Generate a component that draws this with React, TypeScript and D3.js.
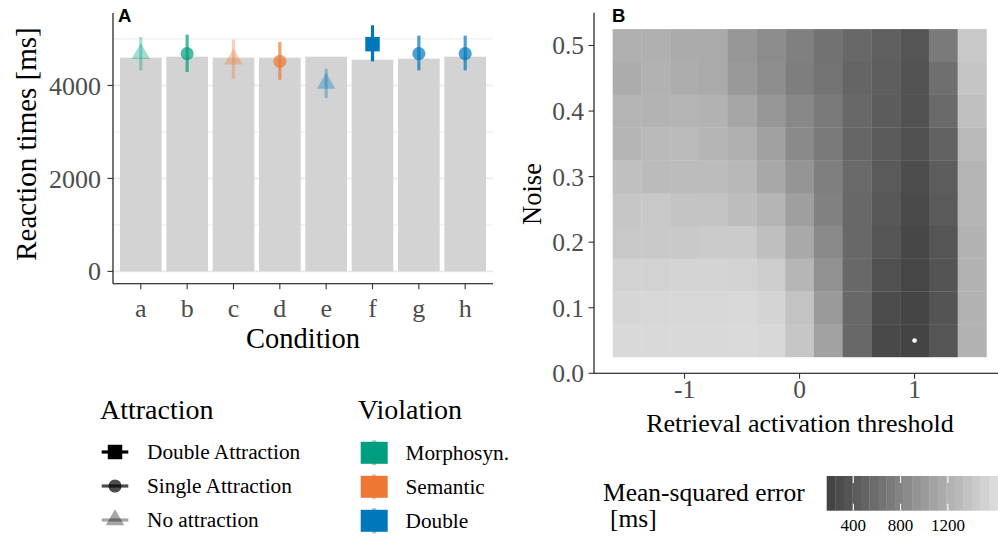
import React from "react";
import * as d3 from "d3";

// ---------- Panel A data ----------
const conditions = ["a", "b", "c", "d", "e", "f", "g", "h"];
const barRT = [4597, 4618, 4597, 4597, 4618, 4554, 4575, 4618];
const pointRT = [4683, 4683, 4565, 4517, 4044, 4888, 4683, 4683];
const lowerRT = [4323, 4289, 4144, 4123, 3728, 4517, 4323, 4323];
const upperRT = [5043, 5093, 4985, 4935, 4360, 5293, 5071, 5071];
const attraction = ["No", "Single", "No", "Single", "No", "Double", "Single", "Single"];
const violation = ["Morphosyn.", "Morphosyn.", "Semantic", "Semantic", "Double", "Double", "Double", "Double"];
const yTicksA = [0, 2000, 4000];
const yMinorA = [1000, 3000, 5000];

const violationLevels = ["Morphosyn.", "Semantic", "Double"];
const violationColors = ["#009E80", "#EE7733", "#0077BB"];
const attractionLevels = ["Double", "Single", "No"];
const attractionLabels = ["Double Attraction", "Single Attraction", "No attraction"];
const attractionAlpha = [1, 0.7, 0.35];

// ---------- Panel B data ----------
const thresholds = [-1.5, -1.25, -1, -0.75, -0.5, -0.25, 0, 0.25, 0.5, 0.75, 1, 1.25, 1.5];
const noiseLevels = [0.05, 0.1, 0.15, 0.2, 0.25, 0.3, 0.35, 0.4, 0.45, 0.5];
const mse = [
  [1610, 1610, 1610, 1610, 1620, 1601, 1427, 1080, 522, 223, 175, 339, 1234],
  [1581, 1591, 1591, 1591, 1610, 1562, 1398, 1003, 522, 252, 180, 329, 1234],
  [1543, 1543, 1562, 1562, 1543, 1495, 1273, 917, 522, 291, 194, 329, 1234],
  [1446, 1456, 1456, 1475, 1475, 1359, 1148, 849, 522, 339, 204, 339, 1234],
  [1427, 1446, 1398, 1408, 1340, 1263, 1052, 763, 522, 368, 233, 387, 1263],
  [1369, 1321, 1331, 1331, 1292, 1138, 955, 743, 541, 387, 262, 416, 1263],
  [1263, 1302, 1321, 1263, 1215, 1071, 849, 695, 503, 387, 291, 464, 1302],
  [1263, 1244, 1254, 1234, 1109, 975, 830, 695, 522, 406, 310, 541, 1369],
  [1177, 1234, 1186, 1157, 994, 887, 734, 628, 493, 425, 320, 589, 1418],
  [1215, 1215, 1167, 1157, 965, 868, 753, 618, 522, 435, 339, 695, 1446],
];
const xTicksB = [-1, 0, 1];
const yTicksB = [0, 0.1, 0.2, 0.3, 0.4, 0.5];
const colorbarTicks = [400, 800, 1200];

const SERIF = "'Liberation Serif', 'Times New Roman', serif";
const SANS = "'Liberation Sans', Arial, sans-serif";
const TICK_COL = "#4d4d4d";

export default function App() {
  // ----- Panel A scales -----
  const xA = d3.scaleBand().domain(conditions).range([113, 493]).paddingInner(0.1).paddingOuter(0.15);
  const maxA = d3.max(upperRT) as number;
  const yA = d3.scaleLinear().domain([-0.05 * maxA, 1.05 * maxA]).range([283.7, 13]);
  const colorA = d3.scaleOrdinal<string, string>().domain(violationLevels).range(violationColors);
  const alphaA = d3.scaleOrdinal<string, number>().domain(attractionLevels).range(attractionAlpha);

  const sym = (kind: string, size: number) => {
    const t = kind === "No" ? d3.symbolTriangle : kind === "Double" ? d3.symbolSquare : d3.symbolCircle;
    return d3.symbol().type(t).size(size)() as string;
  };
  const symSize = (kind: string) => (kind === "No" ? 150 : kind === "Double" ? 210 : 135);

  // ----- Panel B scales -----
  const xB = d3.scaleLinear().domain([-1.7875, 1.7875]).range([594, 1005.1]);
  const yB = d3.scaleLinear().domain([0, 0.55]).range([373.3, 12.7]);
  const all = mse.flat();
  const ext = d3.extent(all) as [number, number];
  const fill = d3.scaleLinear<string>().domain(ext).range(["#444444", "#dadada"]).interpolate(d3.interpolateRgb);
  const tileW = xB(0.25) - xB(0);
  const tileH = yB(0) - yB(0.05);

  let minI = 0, minJ = 0;
  mse.forEach((row, i) => row.forEach((v, j) => { if (v < mse[minI][minJ]) { minI = i; minJ = j; } }));

  // colorbar
  const cbX0 = 826.7;
  const cbScale = d3.scaleLinear().domain(ext).range([cbX0, cbX0 + (ext[1] - ext[0]) * 0.11825]);
  const nbin = 20;
  const binVals = d3.range(nbin).map((i) => ext[0] + ((ext[1] - ext[0]) * i) / (nbin - 1));
  const binW = (cbScale(ext[1]) - cbScale(ext[0])) / nbin;
  const cbY0 = 476, cbY1 = 510.7;

  return (
    <svg width={998} height={537} style={{ position: "absolute", left: 0, top: 0, background: "#fff" }}>
      <rect x={0} y={0} width={998} height={537} fill="#fff" />
      {/* ===== Panel A ===== */}
      <g>
        {yMinorA.map((t) => (
          <line key={"mn" + t} x1={113} x2={493} y1={yA(t)} y2={yA(t)} stroke="#ebebeb" strokeWidth={1} />
        ))}
        {yTicksA.map((t) => (
          <line key={"mj" + t} x1={113} x2={493} y1={yA(t)} y2={yA(t)} stroke="#ebebeb" strokeWidth={1.8} />
        ))}
        {conditions.map((c, i) => (
          <rect key={"bar" + c} x={xA(c)} width={xA.bandwidth()} y={yA(barRT[i])} height={yA(0) - yA(barRT[i])} fill="#d3d3d3" />
        ))}
        {conditions.map((c, i) => {
          const cx = (xA(c) as number) + xA.bandwidth() / 2;
          const col = colorA(violation[i]);
          const op = alphaA(attraction[i]);
          return (
            <g key={"pr" + c}>
              <line x1={cx} x2={cx} y1={yA(lowerRT[i])} y2={yA(upperRT[i])} stroke={col} strokeOpacity={op} strokeWidth={3.2} />
              <path d={sym(attraction[i], symSize(attraction[i]))} transform={`translate(${cx},${yA(pointRT[i])})`} fill={col} fillOpacity={op} />
            </g>
          );
        })}
        {/* axes */}
        <line x1={113} x2={113} y1={13} y2={283.7} stroke="#000" strokeWidth={1.1} />
        <line x1={113} x2={493} y1={283.7} y2={283.7} stroke="#000" strokeWidth={1.1} />
        {yTicksA.map((t) => (
          <g key={"yt" + t}>
            <line x1={107.5} x2={113} y1={yA(t)} y2={yA(t)} stroke="#333" strokeWidth={1.1} />
            <text x={101} y={yA(t)} dy="0.35em" textAnchor="end" fontFamily={SERIF} fontSize={26} fill={TICK_COL}>
              {t}
            </text>
          </g>
        ))}
        {conditions.map((c) => {
          const cx = (xA(c) as number) + xA.bandwidth() / 2;
          return (
            <g key={"xt" + c}>
              <line x1={cx} x2={cx} y1={283.7} y2={289.2} stroke="#333" strokeWidth={1.1} />
              <text x={cx} y={316.5} textAnchor="middle" fontFamily={SERIF} fontSize={26} fill={TICK_COL}>
                {c}
              </text>
            </g>
          );
        })}
        <text x={303} y={348} textAnchor="middle" fontFamily={SERIF} fontSize={28.5} fill="#000">
          Condition
        </text>
        <text transform="translate(26,144) rotate(-90)" dy="0.35em" textAnchor="middle" fontFamily={SERIF} fontSize={29} fill="#000">
          Reaction times [ms]
        </text>
        <text x={118} y={22} fontFamily={SANS} fontWeight="bold" fontSize={18.5} fill="#000">
          A
        </text>
      </g>

      {/* ===== Legends A ===== */}
      <g>
        <text x={100} y={419} fontFamily={SERIF} fontSize={28} fill="#000">Attraction</text>
        {attractionLevels.map((a, i) => {
          const cy = 452 + i * 34;
          const op = alphaA(a);
          return (
            <g key={"la" + a}>
              <line x1={101.7} x2={128.3} y1={cy} y2={cy} stroke="#000" strokeOpacity={op} strokeWidth={3.2} />
              <path d={sym(a, symSize(a))} transform={`translate(115,${cy})`} fill="#000" fillOpacity={op} />
              <text x={147} y={cy} dy="0.35em" fontFamily={SERIF} fontSize={21.3} fill="#000">
                {attractionLabels[i]}
              </text>
            </g>
          );
        })}
        <text x={358} y={419} fontFamily={SERIF} fontSize={28} fill="#000">Violation</text>
        {violationLevels.map((v, i) => {
          const cy = 452.8 + i * 34;
          const col = colorA(v);
          return (
            <g key={"lv" + v}>
              <line x1={374.2} x2={374.2} y1={cy - 12.5} y2={cy + 12.5} stroke={col} strokeOpacity={0.45} strokeWidth={4} />
              <rect x={360.7} y={cy - 11} width={27} height={22} fill={col} />
              <text x={405.5} y={cy} dy="0.35em" fontFamily={SERIF} fontSize={21.3} fill="#000">
                {v}
              </text>
            </g>
          );
        })}
      </g>

      {/* ===== Panel B ===== */}
      <g>
        {mse.map((row, i) =>
          row.map((v, j) => (
            <rect
              key={`t${i}-${j}`}
              x={xB(thresholds[j]) - tileW / 2}
              y={yB(noiseLevels[i]) - tileH / 2}
              width={tileW + 0.3}
              height={tileH + 0.3}
              fill={fill(v)}
            />
          ))
        )}
        <circle cx={xB(thresholds[minJ])} cy={yB(noiseLevels[minI])} r={2.3} fill="#fff" />
        <line x1={594} x2={594} y1={12.7} y2={373.3} stroke="#000" strokeWidth={1.1} />
        <line x1={594} x2={998} y1={373.3} y2={373.3} stroke="#000" strokeWidth={1.1} />
        {yTicksB.map((t) => (
          <g key={"ybt" + t}>
            <line x1={588.5} x2={594} y1={yB(t)} y2={yB(t)} stroke="#333" strokeWidth={1.1} />
            <text x={584} y={yB(t)} dy="0.35em" textAnchor="end" fontFamily={SERIF} fontSize={25.5} fill={TICK_COL}>
              {t.toFixed(1)}
            </text>
          </g>
        ))}
        {xTicksB.map((t) => (
          <g key={"xbt" + t}>
            <line x1={xB(t)} x2={xB(t)} y1={373.3} y2={378.8} stroke="#333" strokeWidth={1.1} />
            <text x={xB(t)} y={398} textAnchor="middle" fontFamily={SERIF} fontSize={25.5} fill={TICK_COL}>
              {t}
            </text>
          </g>
        ))}
        <text x={800} y={432} textAnchor="middle" fontFamily={SERIF} fontSize={26} fill="#000">
          Retrieval activation threshold
        </text>
        <text transform="translate(532,194) rotate(-90)" dy="0.35em" textAnchor="middle" fontFamily={SERIF} fontSize={26.5} fill="#000">
          Noise
        </text>
        <text x={612} y={22} fontFamily={SANS} fontWeight="bold" fontSize={18.5} fill="#000">
          B
        </text>
      </g>

      {/* ===== Colorbar legend ===== */}
      <g>
        <text fontFamily={SERIF} fontSize={25.5} fill="#000">
          <tspan x={603} y={501}>Mean-squared error</tspan>
          <tspan x={610} y={527}>[ms]</tspan>
        </text>
        {binVals.map((v, i) => (
          <rect key={"cb" + i} x={cbX0 + i * binW} y={cbY0} width={binW + 0.3} height={cbY1 - cbY0} fill={fill(v)} />
        ))}
        {colorbarTicks.map((t) => (
          <g key={"cbt" + t}>
            <line x1={cbScale(t)} x2={cbScale(t)} y1={cbY0} y2={cbY0 + 7} stroke="#fff" strokeWidth={1.1} />
            <line x1={cbScale(t)} x2={cbScale(t)} y1={cbY1 - 7} y2={cbY1} stroke="#fff" strokeWidth={1.1} />
            <text x={cbScale(t)} y={531} textAnchor="middle" fontFamily={SERIF} fontSize={17} fill="#000">
              {t}
            </text>
          </g>
        ))}
      </g>
    </svg>
  );
}
